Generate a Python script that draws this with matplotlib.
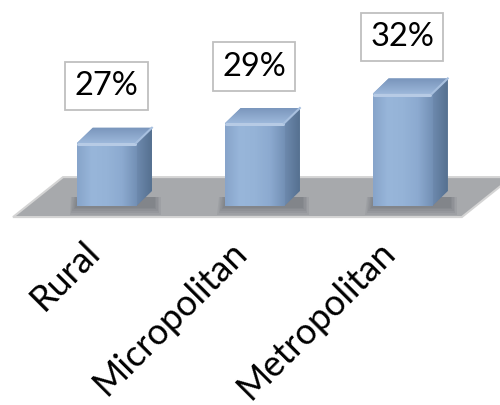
import numpy as np
import matplotlib.pyplot as plt
from matplotlib.patches import Polygon, Rectangle
from matplotlib.colors import LinearSegmentedColormap

plt.rcParams['font.family'] = ['Lato', 'DejaVu Sans']

# datos del grafico
categorias = ['Rural', 'Micropolitan', 'Metropolitan']
valores = [27, 29, 32]
etiquetas = ['27%', '29%', '32%']

# geometria de las barras 3D (en unidades de datos)
base = 20.6      # valor donde arranca el eje (suelo)
ancho = 0.40
prof_x = 0.107
prof_y = 1.55


def relleno_degradado(ax, parche, colores, horizontal=True):
    """Rellena un parche con un degradado recortado a su forma."""
    if isinstance(parche, Rectangle):
        verts = parche.get_patch_transform().transform(parche.get_path().vertices)
    else:
        verts = parche.get_xy()
    x0, x1 = verts[:, 0].min(), verts[:, 0].max()
    y0, y1 = verts[:, 1].min(), verts[:, 1].max()
    cmap = LinearSegmentedColormap.from_list('g', colores)
    grad = np.linspace(0, 1, 256)
    img = grad[np.newaxis, :] if horizontal else grad[:, np.newaxis]
    im = ax.imshow(img, cmap=cmap, extent=(x0, x1, y0, y1), origin='lower',
                   aspect='auto', interpolation='bicubic', zorder=parche.get_zorder())
    im.set_clip_path(parche)


fig = plt.figure(figsize=(5, 4.05), dpi=100)
ax = fig.add_axes([0, 0, 1, 1])

# suelo gris
suelo = Polygon([(-0.632, 19.5), (2.402, 19.5), (2.74, 23.55), (-0.294, 23.55)],
                closed=True, fc='#A7A9AC', ec='#D4D4D4', lw=1.5, zorder=1)
ax.add_patch(suelo)

for i, (v, etq) in enumerate(zip(valores, etiquetas)):
    x = i
    izq, der = x - ancho / 2, x + ancho / 2

    # sombra difusa sobre el suelo
    for k in range(5):
        e = 0.01 * k
        sombra = Polygon([(izq - e - 0.01, base - 0.15 - 0.18 * k),
                          (der + prof_x + e + 0.02, base - 0.15 - 0.18 * k),
                          (der + prof_x + e + 0.02, base + prof_y * 0.6),
                          (izq - e, base + prof_y * 0.6)],
                         closed=True, fc='#4A4F57', ec='none', alpha=0.09, zorder=2)
        ax.add_patch(sombra)

    # cara lateral
    lateral = Polygon([(der, base), (der + prof_x, base + prof_y),
                       (der + prof_x, v + prof_y), (der, v)],
                      closed=True, fc='#647FA3', ec='none', zorder=3)
    ax.add_patch(lateral)
    relleno_degradado(ax, lateral, ['#6F8BB0', '#55708F'])

    # cara superior
    tapa = Polygon([(izq, v), (der, v), (der + prof_x, v + prof_y), (izq + prof_x, v + prof_y)],
                   closed=True, fc='#8AA6CC', ec='none', zorder=3)
    ax.add_patch(tapa)
    relleno_degradado(ax, tapa, ['#9DB8DB', '#7894BA'], horizontal=False)

    # cara frontal
    frente = Rectangle((izq, base), ancho, v - base, fc='#95B3D7', ec='none', zorder=4)
    ax.add_patch(frente)
    relleno_degradado(ax, frente, ['#87A4CA', '#98B6DA', '#95B3D7', '#8CAAD0', '#7390B5'])

    # brillo del bisel
    ax.plot([izq + 0.01, der - 0.01], [v - 0.1, v - 0.1], color='#B7CBE5', lw=2.2,
            solid_capstyle='round', zorder=5)
    ax.plot([der, der + prof_x], [v, v + prof_y], color='#A8C0DF', lw=1.5, zorder=5)

    # etiqueta de valor
    ax.text(x, v + 5.75, etq, ha='center', va='center', fontsize=23.5, color='black',
            zorder=6, bbox=dict(boxstyle='square,pad=0.28', fc='white', ec='#BFBFBF', lw=1.3))

    # nombre de la categoria
    ax.text(x - 0.085, 16.5, categorias[i], rotation=45, rotation_mode='anchor',
            ha='right', va='center', fontsize=26, color='black', zorder=6)

ax.set_xlim(-0.72, 2.66)
ax.set_ylim(0.45, 41.5)
ax.axis('off')

plt.savefig('out.png', dpi=100)
plt.close()
